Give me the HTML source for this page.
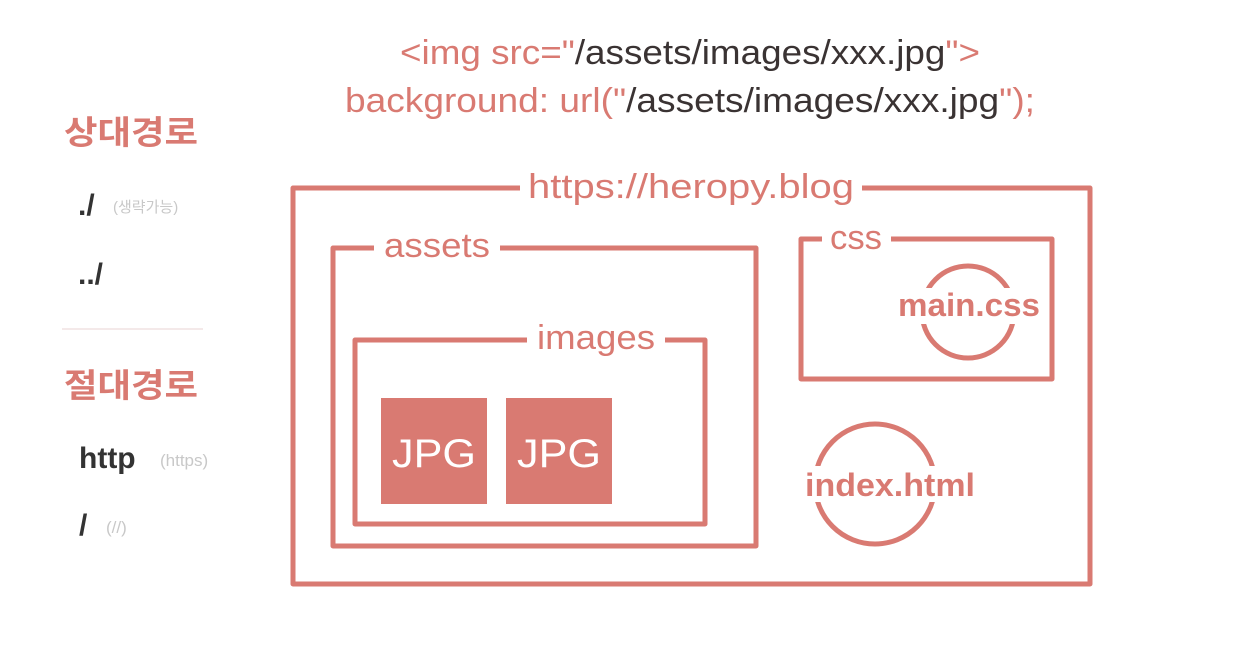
<!DOCTYPE html>
<html><head><meta charset="utf-8"><style>
html,body{margin:0;padding:0;background:#fff}
svg{display:block}
text{font-family:"Liberation Sans","Noto Sans CJK KR",sans-serif}
</style></head><body>
<svg width="1233" height="648" viewBox="0 0 1233 648" xmlns="http://www.w3.org/2000/svg">
<g font-size="34" font-weight="normal">
<text x="690" y="64" text-anchor="middle" textLength="580" lengthAdjust="spacingAndGlyphs"><tspan fill="#d97a72">&lt;img src="</tspan><tspan fill="#3a3333">/assets/images/xxx.jpg</tspan><tspan fill="#d97a72">"&gt;</tspan></text>
<text x="690" y="112" text-anchor="middle" textLength="690" lengthAdjust="spacingAndGlyphs"><tspan fill="#d97a72">background: url("</tspan><tspan fill="#3a3333">/assets/images/xxx.jpg</tspan><tspan fill="#d97a72">");</tspan></text>
</g>
<!-- left -->
<text x="64" y="144" font-size="33" font-weight="bold" fill="#d97a72" textLength="134" lengthAdjust="spacingAndGlyphs">상대경로</text>
<text x="78" y="215" font-size="30" font-weight="bold" fill="#333">./</text>
<text x="113" y="212" font-size="15" fill="#c8c8c8">(생략가능)</text>
<text x="78" y="284" font-size="30" font-weight="bold" fill="#333">../</text>
<line x1="62" y1="329" x2="203" y2="329" stroke="#f0e2e2" stroke-width="1.5"/>
<text x="64" y="397" font-size="33" font-weight="bold" fill="#d97a72" textLength="134" lengthAdjust="spacingAndGlyphs">절대경로</text>
<text x="79" y="468" font-size="30" font-weight="bold" fill="#333">http</text>
<text x="160" y="466" font-size="17" fill="#c8c8c8">(https)</text>
<text x="79" y="535" font-size="30" font-weight="bold" fill="#333">/</text>
<text x="106" y="533" font-size="17" fill="#c8c8c8">(//)</text>

<g fill="none" stroke="#d97a72" stroke-width="5" stroke-linejoin="round">
<path d="M520 188 H293 V584 H1090 V188 H862"/>
<path d="M374 248 H333 V546 H756 V248 H500"/>
<path d="M527 340 H355 V524 H705 V340 H665"/>
<path d="M822 239 H801 V379 H1052 V239 H891"/>
<circle cx="968" cy="312" r="46"/>
<circle cx="875" cy="484" r="60"/>
</g>
<rect x="381" y="398" width="106" height="106" fill="#d97a72"/>
<rect x="506" y="398" width="106" height="106" fill="#d97a72"/>
<g fill="#d97a72" font-size="34">
<text x="691" y="198" text-anchor="middle" textLength="326" lengthAdjust="spacingAndGlyphs">https://heropy.blog</text>
<text x="437" y="257" text-anchor="middle" textLength="106" lengthAdjust="spacingAndGlyphs">assets</text>
<text x="596" y="349" text-anchor="middle" textLength="118" lengthAdjust="spacingAndGlyphs">images</text>
<text x="856" y="249" text-anchor="middle" textLength="52" lengthAdjust="spacingAndGlyphs">css</text>
</g>
<g font-size="32" font-weight="bold" text-anchor="middle">
<rect x="897" y="288" width="145" height="36" fill="#fff"/>
<text x="969" y="316" fill="#d97a72" textLength="142" lengthAdjust="spacingAndGlyphs">main.css</text>
<rect x="804" y="466" width="174" height="36" fill="#fff"/>
<text x="890" y="496" fill="#d97a72" textLength="170" lengthAdjust="spacingAndGlyphs">index.html</text>
<text x="434" y="467" fill="#fff" font-weight="normal" font-size="40" textLength="84" lengthAdjust="spacingAndGlyphs">JPG</text>
<text x="559" y="467" fill="#fff" font-weight="normal" font-size="40" textLength="84" lengthAdjust="spacingAndGlyphs">JPG</text>
</g>
</svg>
</body></html>
